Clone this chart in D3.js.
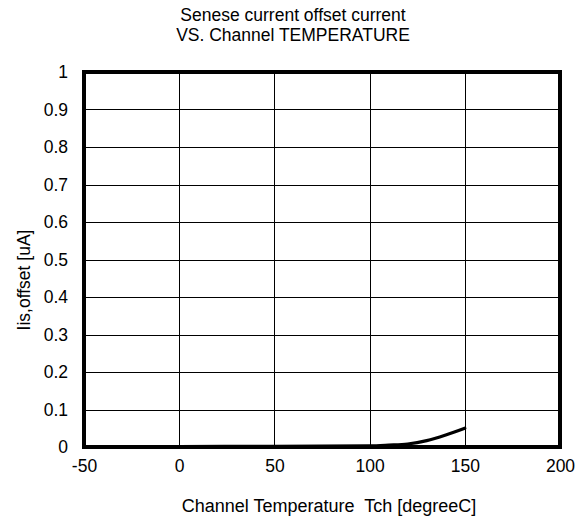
<!DOCTYPE html>
<html><head><meta charset="utf-8">
<script src="https://cdn.jsdelivr.net/npm/d3@7"></script>
<style>body{margin:0;background:#fff;}svg text{font-family:"Liberation Sans",Arial,sans-serif;fill:#000;white-space:pre;}</style>
</head><body>
<svg id="c" width="577" height="524"></svg>
<script>
const temps = [-40, 0, 50, 100, 110, 120, 130, 140, 150];
const offsets = [0.0, 0.001, 0.002, 0.003, 0.005, 0.008, 0.017, 0.032, 0.05];
const xTicks = [-50, 0, 50, 100, 150, 200];
const yTicks = [0, 0.1, 0.2, 0.3, 0.4, 0.5, 0.6, 0.7, 0.8, 0.9, 1];
const titleLines = ["Senese current offset current", "VS. Channel TEMPERATURE"];
const xTitle = "Channel Temperature  Tch [degreeC]";
const yTitle = "Iis,offset [uA]";

const FONT = "Liberation Sans, Arial, sans-serif";
const svg = d3.select("#c");
const L = 84, R = 560, T = 72, B = 447;
const x = d3.scaleLinear().domain([-50, 200]).range([L, R]);
const y = d3.scaleLinear().domain([0, 1]).range([B, T]);

// grid
svg.append("g").selectAll("line").data(xTicks).join("line")
  .attr("x1", d => Math.round(x(d)) + 0.5).attr("x2", d => Math.round(x(d)) + 0.5).attr("y1", T).attr("y2", B)
  .attr("stroke", "#000").attr("stroke-width", 1);
svg.append("g").selectAll("line").data(yTicks).join("line")
  .attr("y1", d => Math.round(y(d)) + 0.5).attr("y2", d => Math.round(y(d)) + 0.5).attr("x1", L).attr("x2", R)
  .attr("stroke", "#000").attr("stroke-width", 1);

// axes labels via d3 axes
const xa = svg.append("g").attr("transform", `translate(0,${B})`)
  .call(d3.axisBottom(x).tickValues(xTicks).tickSize(0).tickPadding(13).tickFormat(d => String(d)));
xa.select(".domain").remove();
xa.selectAll("text").attr("font-size", 17.5).attr("font-family", FONT);
const ya = svg.append("g").attr("transform", `translate(${L},0)`)
  .call(d3.axisLeft(y).tickValues(yTicks).tickSize(0).tickPadding(16).tickFormat(d => String(+d.toFixed(1))));
ya.select(".domain").remove();
ya.selectAll("text").attr("font-size", 17.5).attr("font-family", FONT);

// curve
const line = d3.line().x((d, i) => x(temps[i])).y(d => y(d)).curve(d3.curveMonotoneX);
svg.append("path").datum(offsets).attr("d", line)
  .attr("fill", "none").attr("stroke", "#000").attr("stroke-width", 3.2).attr("stroke-linecap", "round");

// border
svg.append("rect").attr("x", L).attr("y", T).attr("width", R - L).attr("height", B - T)
  .attr("fill", "none").attr("stroke", "#000").attr("stroke-width", 4);

// titles
svg.append("text").attr("x", 293).attr("y", 21).attr("text-anchor", "middle").attr("font-size", 17.5).text(titleLines[0]);
svg.append("text").attr("x", 293).attr("y", 41).attr("text-anchor", "middle").attr("font-size", 17.5).text(titleLines[1]);
svg.append("text").attr("x", 329).attr("y", 512).attr("text-anchor", "middle").attr("font-size", 18).text(xTitle);
svg.append("text").attr("transform", "translate(30,280) rotate(-90)").attr("text-anchor", "middle").attr("font-size", 17.5).text(yTitle);
</script>
</body></html>
